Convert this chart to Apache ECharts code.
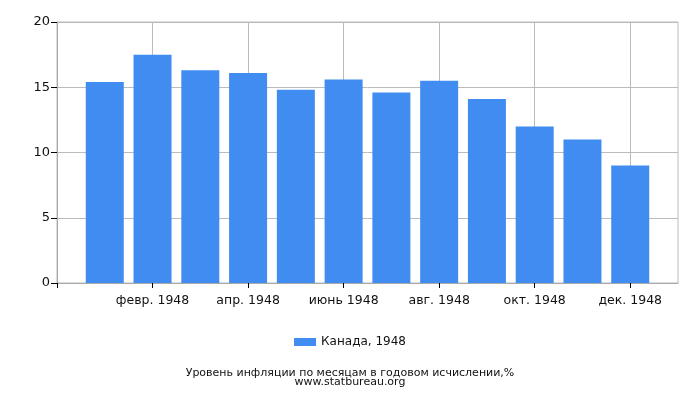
<!DOCTYPE html>
<html>
<head>
<meta charset="utf-8">
<script src="https://cdn.jsdelivr.net/npm/echarts@6/dist/echarts.min.js"></script>
<style>
  html, body { margin: 0; padding: 0; background: #fff; }
  #chart { width: 700px; height: 400px; }
</style>
</head>
<body>
<div id="chart"></div>
<script>
var months = ['янв. 1948', 'февр. 1948', 'март 1948', 'апр. 1948', 'май 1948', 'июнь 1948',
  'июль 1948', 'авг. 1948', 'сент. 1948', 'окт. 1948', 'нояб. 1948', 'дек. 1948'];
var values = [15.4, 17.5, 16.3, 16.1, 14.8, 15.6, 14.6, 15.5, 14.1, 12.0, 11.0, 9.0];
var seriesName = 'Канада, 1948';
var yTicks = [0, 5, 10, 15, 20];

var font = 'DejaVu Sans';
var myChart = echarts.init(document.getElementById('chart'));

myChart.setOption({
  animation: false,
  textStyle: { fontFamily: font },
  grid: {
    left: 57, right: 22, top: 22, bottom: 117,
    show: true, borderColor: '#bbb', borderWidth: 1
  },
  title: {
    text: 'Уровень инфляции по месяцам в годовом исчислении,%\nwww.statbureau.org',
    left: 'center', top: 363,
    textStyle: { fontSize: 11, fontWeight: 'normal', color: '#111', lineHeight: 9.5, fontFamily: font }
  },
  legend: {
    top: 331, left: 'center',
    icon: 'rect', itemWidth: 22, itemHeight: 8, itemGap: 5,
    textStyle: { fontSize: 12, color: '#111', fontFamily: font },
    data: [seriesName]
  },
  xAxis: {
    type: 'value',
    min: -1, max: 12, interval: 2,
    axisLine: { show: true, onZero: false, lineStyle: { color: '#aaa' } },
    axisTick: { show: true, length: 5, lineStyle: { color: '#000' }, customValues: [-1, 1, 3, 5, 7, 9, 11] },
    axisLabel: {
      color: '#111', fontSize: 12.5, margin: 11,
      customValues: [1, 3, 5, 7, 9, 11],
      formatter: function (v) { return months[v] || ''; }
    },
    splitLine: { show: true, lineStyle: { color: '#bbb' } }
  },
  yAxis: {
    type: 'value',
    min: yTicks[0], max: yTicks[yTicks.length - 1], interval: 5,
    axisLine: { show: true, onZero: false, lineStyle: { color: '#aaa' } },
    axisTick: { show: true, length: 6, lineStyle: { color: '#000' } },
    axisLabel: { color: '#111', fontSize: 13, margin: 7 },
    splitLine: { show: true, lineStyle: { color: '#bbb' } }
  },
  series: [{
    name: seriesName,
    type: 'bar',
    barWidth: 38,
    itemStyle: { color: '#418cf0' },
    data: values.map(function (v, i) { return [i, v]; })
  }]
});
</script>
</body>
</html>
